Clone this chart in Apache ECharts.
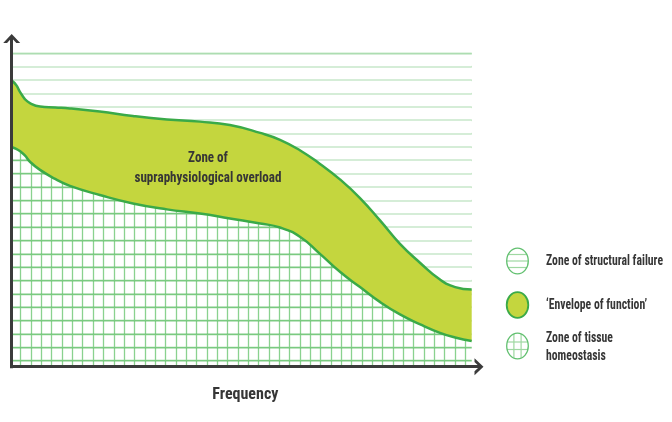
<!DOCTYPE html>
<html><head><meta charset="utf-8">
<script src="https://cdn.jsdelivr.net/npm/echarts@6/dist/echarts.min.js"></script>
<style>html,body{margin:0;padding:0;background:#fff}#c{width:672px;height:422px}</style>
</head><body><div id="c"></div>
<script>
// ---- data (x: 0 = vertical axis, 100 = right end of the band) ----
const xs    = [0,0.9,1.7,2.8,3.9,6.1,9.4,12.6,19.1,26.3,33.7,40.9,47.4,54.0,58.3,62.7,67.0,71.4,75.7,80.1,84.4,88.8,93.1,96.4,100];
const upper = [91.2,89.9,87.8,85.4,84.1,83.0,82.7,82.4,81.4,80.0,78.9,78.2,77.1,74.6,72.4,69.0,64.7,59.7,53.8,46.6,39.2,33.1,27.8,25.4,24.6];
const lower = [70.0,69.5,68.8,67.4,65.4,62.8,59.9,57.7,54.8,52.1,50.2,48.9,47.3,45.7,44.4,41.4,36.0,30.2,25.4,20.6,16.7,13.5,10.8,9.3,8.2];
const legendLabels = ['Zone of structural failure', '\u2018Envelope of function\u2019', 'Zone of tissue\nhomeostasis'];
const zoneLabel = 'Zone of\nsupraphysiological overload';
const xName = 'Frequency';

// ---- font sizing helpers ----
const FF = '"Roboto Condensed", "DejaVu Sans Condensed", Roboto, sans-serif';
const cv = document.createElement('canvas').getContext('2d');
function mw(font, text){ cv.font = font; return cv.measureText(text).width; }
function fitScale(text, size, target){ return Math.min(1.1, target / mw('bold ' + size + 'px ' + FF, text)); }

const GREEN = '#3aaa48';
const BAND = '#c4d63e';
const AXIS = '#3b3b3b';
const TEXT = '#363636';
const ARROW = 'path://M0,9L8.5,0L17,9L13.15,9L8.5,4.1L3.85,9Z';

// value first, position second (encode maps column 1 to x, column 0 to y) so stacking acts on y
const pts = ys => xs.map((x, i) => [ys[i], x]);
const bandPts = xs.map((x, i) => [+(upper[i] - lower[i]).toFixed(2), x]);

function helperAxis(extra){
  return Object.assign({type:'value', axisLine:{show:false}, axisTick:{show:false}, axisLabel:{show:false}, splitLine:{show:false}}, extra);
}

// ---- legend graphics ----
const els = [];
const iconCx = 517.5, iconYs = [261, 305, 346], rx = 10.8, ry = 12.8;
function chordLine(cx, cy, d, horizontal){
  if (horizontal){
    const hw = rx * Math.sqrt(1 - (d/ry)*(d/ry));
    return {type:'line', shape:{x1:cx-hw, y1:cy+d, x2:cx+hw, y2:cy+d}, style:{stroke:'#9fd8a2', lineWidth:1.2}, silent:true};
  }
  const hh = ry * Math.sqrt(1 - (d/rx)*(d/rx));
  return {type:'line', shape:{x1:cx+d, y1:cy-hh, x2:cx+d, y2:cy+hh}, style:{stroke:'#9fd8a2', lineWidth:1.2}, silent:true};
}
[-6.5, 0, 6.5].forEach(d => els.push(chordLine(iconCx, iconYs[0], d, true)));
els.push({type:'ellipse', shape:{cx:iconCx, cy:iconYs[0], rx:rx, ry:ry}, style:{fill:null, stroke:'#62c070', lineWidth:1.3}, silent:true});
els.push({type:'ellipse', shape:{cx:iconCx, cy:iconYs[1], rx:rx, ry:ry}, style:{fill:BAND, stroke:GREEN, lineWidth:1.8}, silent:true});
[-4, 3.5].forEach(d => els.push(chordLine(iconCx, iconYs[2], d, true)));
[-3.6, 3.6].forEach(d => els.push(chordLine(iconCx, iconYs[2], d, false)));
els.push({type:'ellipse', shape:{cx:iconCx, cy:iconYs[2], rx:rx, ry:ry}, style:{fill:null, stroke:'#62c070', lineWidth:1.3}, silent:true});

const legSize = 14;
const legScale = fitScale(legendLabels[0], legSize, 117);
const legTextYs = [261.5, 305, 347.5];
legendLabels.forEach((t, i) => els.push({
  type:'text', x:546, y:legTextYs[i], scaleX:legScale, silent:true,
  style:{text:t, fill:TEXT, font:'bold ' + legSize + 'px ' + FF, align:'left', verticalAlign:'middle', lineHeight:18}
}));

const zoneSize = 15;
const zoneScale = fitScale('supraphysiological overload', zoneSize, 147);
els.push({
  type:'text', x:208, y:168.5, scaleX:zoneScale, silent:true, z:10,
  style:{text:zoneLabel, fill:TEXT, font:'bold ' + zoneSize + 'px ' + FF, align:'center', verticalAlign:'middle', lineHeight:20}
});

const chart = echarts.init(document.getElementById('c'), null, {renderer:'canvas'});
const enc = {x:1, y:0};
const SM = 0.5;
chart.setOption({
  animation:false,
  backgroundColor:'#fff',
  grid:[
    {left:12, right:200.3, top:53.3, bottom:55.3},   // 0 data
    {left:12, right:200.3, top:53.3, bottom:61.3},   // 1 pale horizontal lines
    {left:12, right:200.3, top:53.3, bottom:61.3},   // 2 darker horizontal lines (lower zone)
    {left:20.7, right:206.7, top:53.3, bottom:55.3}, // 3 vertical lines (lower zone)
    {left:11.7, right:193, top:38.5, bottom:55.3}    // 4 axes with arrows
  ],
  xAxis:[
    helperAxis({gridIndex:0, min:0, max:100}),
    helperAxis({gridIndex:1, min:0, max:1}),
    helperAxis({gridIndex:2, min:0, max:1}),
    helperAxis({gridIndex:3, min:0, max:43, interval:1, z:0, splitLine:{show:true, lineStyle:{color:'#8ad28f', width:1.3}}}),
    {gridIndex:4, type:'value', min:0, max:1, z:6,
     axisLine:{show:true, onZero:false, symbol:['none', ARROW], symbolSize:[17,9], lineStyle:{color:AXIS, width:3, cap:'square'}},
     axisTick:{show:false}, axisLabel:{show:false}, splitLine:{show:false},
     name:xName, nameLocation:'middle', nameGap:20,
     nameTextStyle:{color:TEXT, fontFamily:FF, fontWeight:'bold', fontSize:16}}
  ],
  yAxis:[
    helperAxis({gridIndex:0, min:0, max:100}),
    helperAxis({gridIndex:1, min:0, max:23, interval:1, z:2, splitLine:{show:true, lineStyle:{color:'rgba(70,175,75,0.3)', width:1.5}}}),
    helperAxis({gridIndex:2, min:0, max:23, interval:1, z:0, splitLine:{show:true, lineStyle:{color:'#8ad28f', width:1.3}}}),
    helperAxis({gridIndex:3, min:0, max:1}),
    {gridIndex:4, type:'value', min:0, max:1, z:6,
     axisLine:{show:true, onZero:false, symbol:['none', ARROW], symbolSize:[17,9], lineStyle:{color:AXIS, width:3, cap:'square'}},
     axisTick:{show:false}, axisLabel:{show:false}, splitLine:{show:false}}
  ],
  series:[
    {name:'cover', type:'line', xAxisIndex:0, yAxisIndex:0, data:pts(lower), encode:enc, smooth:SM, symbol:'none', silent:true, z:1,
     lineStyle:{width:0, opacity:0}, areaStyle:{color:'#ffffff', opacity:1, origin:'end'}},
    {name:'Lower limit', type:'line', xAxisIndex:0, yAxisIndex:0, data:pts(lower), encode:enc, stack:'env', smooth:SM, symbol:'none', silent:true, z:4,
     lineStyle:{color:GREEN, width:2.5}},
    {name:'Envelope of function', type:'line', xAxisIndex:0, yAxisIndex:0, data:bandPts, encode:enc, stack:'env', smooth:SM, symbol:'none', silent:true, z:3,
     lineStyle:{color:GREEN, width:2.5}, areaStyle:{color:BAND, opacity:1}}
  ],
  graphic:{elements:els}
});
</script></body></html>
